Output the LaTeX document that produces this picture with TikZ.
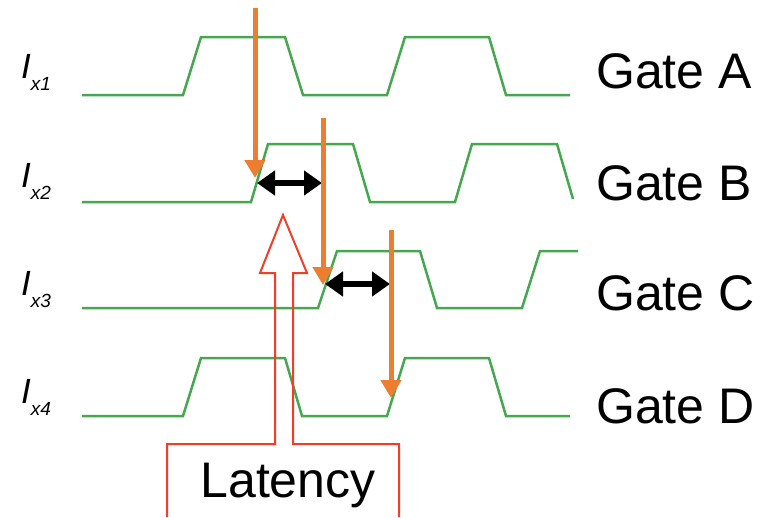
\documentclass[tikz,border=0pt]{standalone}
\usepackage{fontspec}
\setmainfont{Liberation Sans}
\usetikzlibrary{arrows.meta}
\definecolor{wavegreen}{RGB}{70,168,78}
\definecolor{probeorange}{RGB}{237,125,49}
\definecolor{latred}{RGB}{240,62,40}
\newcommand{\ixlabel}[1]{\fontsize{35}{40}\selectfont\itshape I\raisebox{-12pt}{\fontsize{19}{20}\selectfont x#1}}

\begin{document}
\begin{tikzpicture}[
            x=1pt, y=-1pt,
            wave/.style={draw=wavegreen, line width=2.5pt, line join=miter},
            probe/.style={draw=probeorange, line width=5pt, -{Triangle[width=20pt,length=18pt]}, probeorange},
            delay/.style={draw=black, line width=5.5pt, {Triangle[width=24pt,length=18pt]}-{Triangle[width=24pt,length=18pt]}},
            gatelabel/.style={anchor=base west, inner sep=0pt, font=\fontsize{50}{60}\selectfont},
            rowlabel/.style={anchor=base west, inner sep=0pt}
        ]
        \useasboundingbox (0,0) rectangle (766,517);

        % --- Row labels ---
        \node[rowlabel] (I1) at (21,78) {\ixlabel{1}};
        \node[rowlabel] (I2) at (21,187) {\ixlabel{2}};
        \node[rowlabel] (I3) at (21,295) {\ixlabel{3}};
        \node[rowlabel] (I4) at (21,403) {\ixlabel{4}};

        \node[gatelabel] (GA) at (596,88) {Gate A};
        \node[gatelabel] (GB) at (596,200) {Gate B};
        \node[gatelabel] (GC) at (596,310) {Gate C};
        \node[gatelabel] (GD) at (596,423) {Gate D};

        % --- Waveforms ---
        \draw[wave] (82,95) -- (183,95) -- (201,37) -- (285,37) -- (303,95) -- (387,95)
            -- (405,37) -- (489,37) -- (506,95) -- (570,95);
        \draw[wave] (82,202) -- (251,202) -- (268,144) -- (353,144) -- (370,202) -- (455,202)
            -- (472,144) -- (557,144) -- (573,199);
        \draw[wave] (82,308) -- (318,308) -- (337,251) -- (420,251) -- (437,308) -- (522,308)
            -- (540,251) -- (578,251);
        \draw[wave] (82,416) -- (183,416) -- (201,358) -- (285,358) -- (302,416) -- (387,416)
            -- (405,358) -- (489,358) -- (506,416) -- (570,416);

        % --- Latency callout ---
        \node[anchor=base, inner sep=0pt, font=\fontsize{50}{60}\selectfont] (lat) at (288,497) {Latency};
        \draw[latred, line width=2pt, line join=miter]
            (167,517) -- (167,444) -- (275,444) -- (275,273) -- (260,273) -- (283,215)
            -- (307,273) -- (293,273) -- (293,444) -- (399,444) -- (399,517);

        % --- Delays ---
        \coordinate (d1s) at (257,183);
        \coordinate (d1e) at (322,183);
        \coordinate (d2s) at (325,284);
        \coordinate (d2e) at (390,284);
        \draw[delay] (d1s) -- (d1e);
        \draw[delay] (d2s) -- (d2e);

        % --- Probes ---
        \coordinate (p1s) at (255,8);
        \coordinate (p1e) at (255,178);
        \coordinate (p2s) at (323,118);
        \coordinate (p2e) at (323,285);
        \coordinate (p3s) at (391,230);
        \coordinate (p3e) at (391,398);
        \draw[probe] (p1s) -- (p1e);
        \draw[probe] (p2s) -- (p2e);
        \draw[probe] (p3s) -- (p3e);
        \end{tikzpicture}
\end{document}
